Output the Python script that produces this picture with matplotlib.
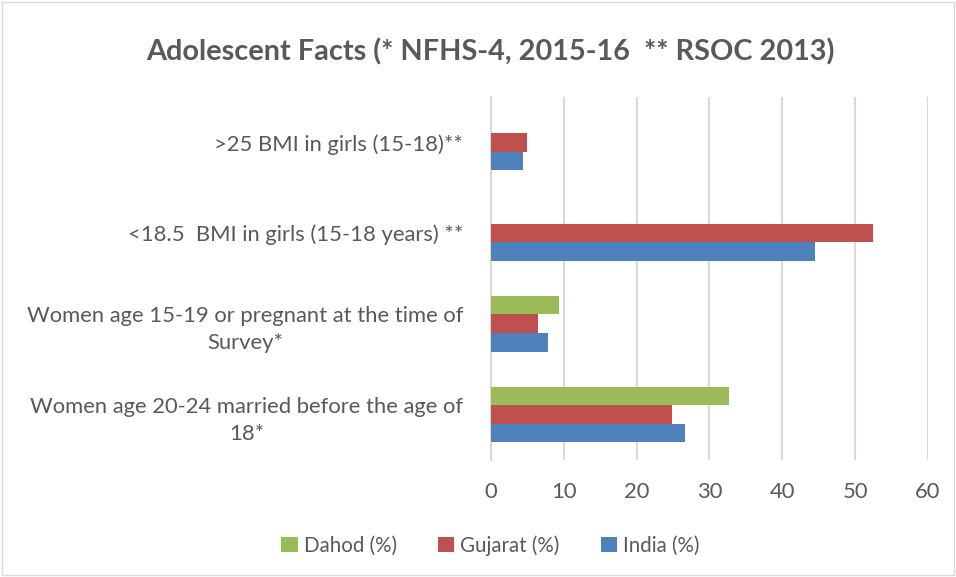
import numpy as np
import matplotlib.pyplot as plt

categories = ["Women age 20-24 married before the age of\n18*",
              "Women age 15-19 or pregnant at the time of\nSurvey*",
              "<18.5  BMI in girls (15-18 years) **",
              ">25 BMI in girls (15-18)**"]
india = [26.7, 7.8, 44.5, 4.4]
gujarat = [24.8, 6.4, 52.4, 4.9]
dahod = [32.7, 9.3, np.nan, np.nan]

plt.rcParams['font.family'] = ['Lato', 'DejaVu Sans']
grey = '#595959'

fig = plt.figure(figsize=(9.56, 5.77), dpi=100)
ax = fig.add_axes([0.5136, 0.203, 0.457, 0.629])

y = np.arange(len(categories))
h = 0.205
ax.barh(y - h, india, h, color='#4f81bd', label='India (%)', zorder=3)
ax.barh(y, gujarat, h, color='#c0504d', label='Gujarat (%)', zorder=3)
ax.barh(y + h, dahod, h, color='#9bbb59', label='Dahod (%)', zorder=3)

ax.set_xlim(0, 60)
ax.set_ylim(-0.5, 3.5)
ax.set_xticks(range(0, 61, 10))
ax.set_yticks(y)
ax.set_yticklabels(categories, fontsize=15.8, color=grey, ha='right',
                   multialignment='center', linespacing=1.45)
ax.tick_params(axis='x', labelsize=15.8, labelcolor=grey, length=0, pad=16)
ax.tick_params(axis='y', length=0, pad=20)
ax.grid(axis='x', color='#d9d9d9', linewidth=1.5, zorder=0)
for s in ['top', 'right', 'bottom']:
    ax.spines[s].set_visible(False)
ax.spines['left'].set_color('#d9d9d9')
ax.spines['left'].set_linewidth(1.5)

fig.text(0.513, 0.91, "Adolescent Facts (* NFHS-4, 2015-16  ** RSOC 2013)",
         ha='center', va='center', fontsize=20.8, fontweight='bold', color=grey)

handles, labels = ax.get_legend_handles_labels()
fig.legend(handles[::-1], labels[::-1], loc='center', bbox_to_anchor=(0.513, 0.055),
           ncol=3, frameon=False, fontsize=14.8, labelcolor=grey,
           handlelength=0.8, handleheight=0.8, handletextpad=0.3, columnspacing=2.0)

fig.patches.append(plt.Rectangle((0.002, 0.003), 0.996, 0.994, transform=fig.transFigure,
                                 fill=False, edgecolor='#d9d9d9', linewidth=1))

fig.savefig('out.png', dpi=100)
